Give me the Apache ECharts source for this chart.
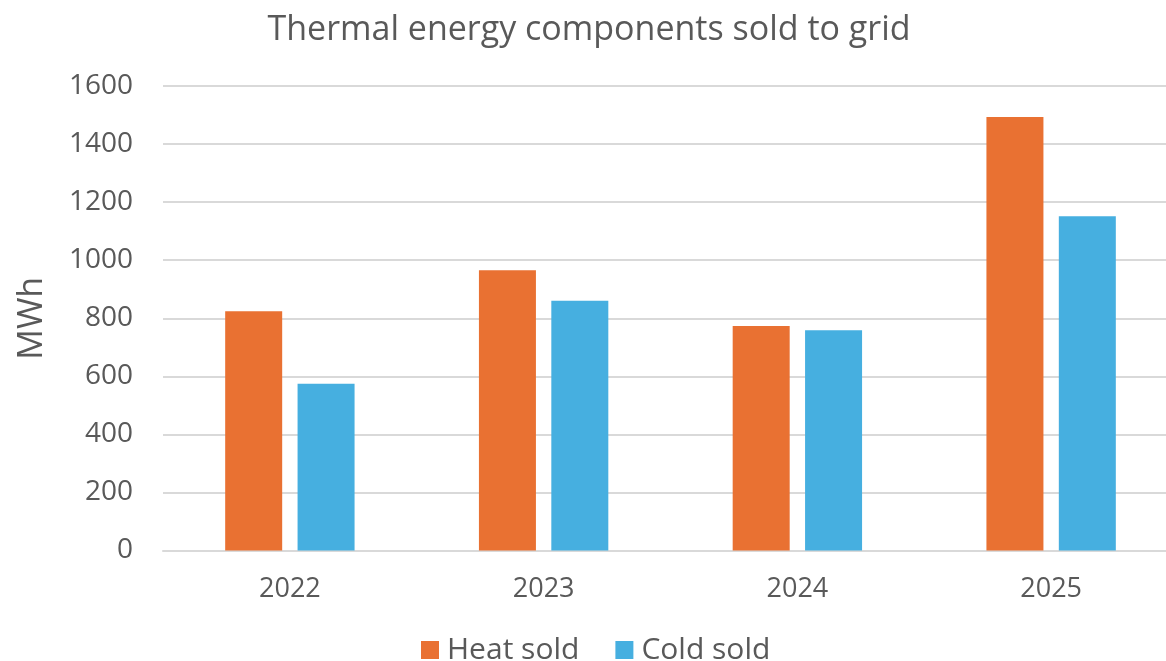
<!DOCTYPE html>
<html>
<head>
<meta charset="utf-8">
<script src="https://cdn.jsdelivr.net/npm/echarts@6/dist/echarts.min.js"></script>
<style>html,body{margin:0;padding:0;background:#fff;overflow:hidden;width:1166px;height:661px;}#c{width:1178px;height:661px;}</style>
</head>
<body>
<div id="c"></div>
<script>
const categories = ['2022', '2023', '2024', '2025'];
const heatSold = [824, 965, 773, 1493];
const coldSold = [574, 860, 759, 1151];
const seriesNames = ['Heat sold', 'Cold sold'];
const titleText = 'Thermal energy components sold to grid';
const yAxisName = 'MWh';

const chart = echarts.init(document.getElementById('c'), null, {renderer: 'canvas', width: 1178, height: 661});
const txt = '#595959';
const font = '"Open Sans", "Liberation Sans", sans-serif';
chart.setOption({
  animation: false,
  backgroundColor: '#ffffff',
  title: {
    text: titleText,
    left: 'center',
    top: 8,
    textStyle: {fontFamily: font, fontWeight: 'normal', fontSize: 34, color: txt}
  },
  legend: {
    data: seriesNames,
    top: 630,
    left: 416,
    icon: 'rect',
    itemWidth: 18,
    itemHeight: 18,
    itemGap: 36,
    textStyle: {fontFamily: font, fontSize: 30, color: txt, padding: [0, 0, 0, 3]}
  },
  grid: {left: 163, right: 0, top: 86, bottom: 110.5, containLabel: false},
  xAxis: {
    type: 'category',
    data: categories,
    axisLine: {lineStyle: {color: '#D9D9D9', width: 2}},
    axisTick: {show: false},
    axisLabel: {fontFamily: font, fontSize: 27, color: txt, margin: 25}
  },
  yAxis: {
    type: 'value',
    min: 0, max: 1600, interval: 200,
    name: yAxisName,
    nameLocation: 'middle',
    nameGap: 114,
    nameTextStyle: {fontFamily: font, fontSize: 34, color: txt},
    axisLine: {show: false},
    axisTick: {show: false},
    splitLine: {lineStyle: {color: '#D9D9D9', width: 2}},
    axisLabel: {fontFamily: font, fontSize: 28, color: txt, margin: 30, formatter: v => String(v)}
  },
  series: [
    {name: seriesNames[0], type: 'bar', data: heatSold, barWidth: 57, barGap: '27%', itemStyle: {color: '#E97132'}},
    {name: seriesNames[1], type: 'bar', data: coldSold, barWidth: 57, barGap: '27%', itemStyle: {color: '#46AFE0'}}
  ]
});
</script>
</body>
</html>
